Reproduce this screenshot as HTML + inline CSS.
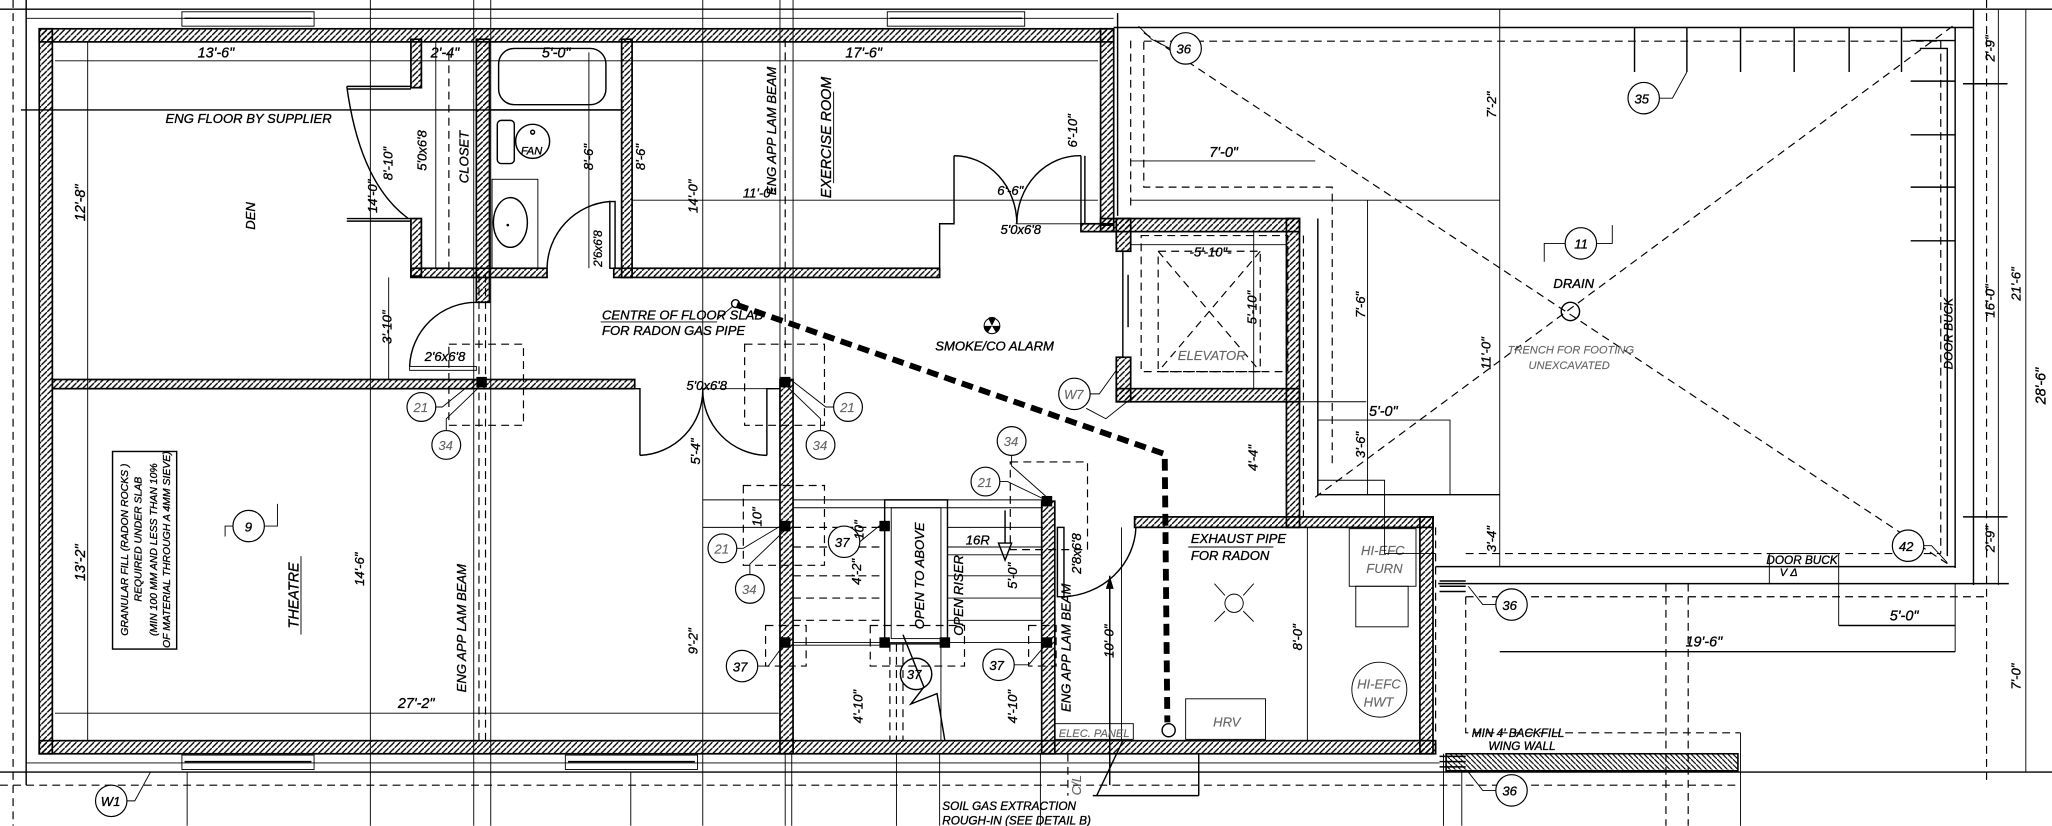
<!DOCTYPE html>
<html><head><meta charset="utf-8">
<style>
html,body{margin:0;padding:0;background:#fff;}
svg{display:block;}
text{font-family:"Liberation Sans Narrow","Liberation Sans",sans-serif;font-style:italic;fill:#000;stroke:#000;stroke-width:0.25;}
.t{font-size:10px;}
.s{font-size:8.5px;}
.g{fill:#666;stroke:#666;stroke-width:0.1;}
.w{fill:url(#h);stroke:#000;stroke-width:1.3;}
.ww{fill:url(#h2);stroke:#000;stroke-width:1.2;}
.l{stroke:#000;stroke-width:1.1;fill:none;}
.lt{stroke:#000;stroke-width:0.7;fill:none;}
.d{stroke:#000;stroke-width:0.9;fill:none;stroke-dasharray:6 4;}
.c{fill:#fff;stroke:#000;stroke-width:0.9;}
</style></head>
<body>
<svg width="2052" height="826" viewBox="0 0 1568 631.2" preserveAspectRatio="none" xmlns="http://www.w3.org/2000/svg">
<defs>
<pattern id="h" width="4.5" height="4.5" patternUnits="userSpaceOnUse"><path d="M-1,5.5 L5.5,-1" stroke="#000" stroke-width="1"/></pattern>
<pattern id="h2" width="4" height="4" patternUnits="userSpaceOnUse"><path d="M-1,-1 L5,5" stroke="#000" stroke-width="0.9"/></pattern>
</defs>
<rect width="1568" height="632" fill="#fff"/>

<!-- frame lines -->
<line class="l" x1="0" y1="7" x2="1568" y2="7"/>
<line class="l" x1="0" y1="590" x2="1568" y2="590"/>
<line class="d" x1="0" y1="600" x2="1330" y2="600"/>
<line class="d" x1="10" y1="0" x2="10" y2="631"/>
<line class="l" x1="20" y1="0" x2="20" y2="600"/>
<line class="lt" x1="20" y1="14" x2="851" y2="14"/>
<line class="lt" x1="20" y1="583" x2="1100" y2="583"/>

<!-- vertical long lines -->
<line class="lt" x1="67" y1="32" x2="67" y2="566"/>
<line class="lt" x1="283" y1="0" x2="283" y2="631"/>
<line class="lt" x1="362" y1="0" x2="362" y2="631"/>
<line class="lt" x1="375" y1="0" x2="375" y2="631"/>
<line class="d" x1="366" y1="210" x2="366" y2="566"/>
<line class="d" x1="371" y1="210" x2="371" y2="566"/>
<line class="lt" x1="537" y1="0" x2="537" y2="631"/>
<line class="lt" x1="596" y1="0" x2="596" y2="290"/>
<line class="lt" x1="606" y1="0" x2="606" y2="290"/>
<line class="d" x1="600" y1="30" x2="600" y2="290"/>
<line class="lt" x1="600" y1="576" x2="600" y2="631"/>
<line class="lt" x1="605" y1="576" x2="605" y2="631"/>
<line class="lt" x1="685" y1="576" x2="685" y2="631"/>
<line class="lt" x1="718" y1="576" x2="718" y2="631"/>
<line class="lt" x1="795" y1="576" x2="795" y2="631"/>
<line class="lt" x1="143" y1="590" x2="143" y2="631"/>
<line class="lt" x1="482" y1="590" x2="482" y2="631"/>
<line class="lt" x1="1103" y1="576" x2="1103" y2="631"/>
<line class="lt" x1="1117" y1="590" x2="1117" y2="631"/>
<line class="d" x1="1273" y1="446" x2="1273" y2="631"/>
<line class="d" x1="1290" y1="446" x2="1290" y2="631"/>
<line class="lt" x1="1330" y1="560" x2="1330" y2="631"/>

<!-- top windows -->
<rect x="139" y="9" width="101" height="11" fill="#fff" class="lt"/>
<line class="l" x1="141" y1="14" x2="238" y2="14" stroke-width="2.5"/>
<rect x="678" y="9" width="105" height="11" fill="#fff" class="lt"/>
<line class="l" x1="680" y1="14" x2="781" y2="14" stroke-width="2.5"/>
<!-- bottom windows -->
<rect x="139" y="577" width="101" height="11" fill="#fff" class="lt"/>
<line class="l" x1="141" y1="582" x2="238" y2="582" stroke-width="2.5"/>
<rect x="432" y="577" width="101" height="11" fill="#fff" class="lt"/>
<line class="l" x1="434" y1="582" x2="531" y2="582" stroke-width="2.5"/>

<!-- interior dimension lines -->
<line class="lt" x1="42" y1="46.5" x2="839" y2="46.5"/>
<line class="l" x1="16" y1="84" x2="477" y2="84" stroke-width="1.4"/>
<line class="lt" x1="42" y1="545" x2="595" y2="545"/>
<line class="lt" x1="483" y1="153" x2="839" y2="153"/>

<!-- WALLS -->
<rect class="w" x="30" y="22" width="821" height="10"/>
<rect class="w" x="30" y="22" width="10" height="554"/>
<rect class="w" x="30" y="566" width="1067" height="10"/>
<rect class="w" x="841" y="22" width="10" height="150"/>
<rect class="w" x="841" y="167" width="152" height="10"/>
<rect class="w" x="983" y="167" width="10" height="236"/>
<rect class="w" x="853" y="297" width="140" height="10"/>
<rect class="w" x="853" y="167" width="11" height="25"/>
<rect class="w" x="853" y="273" width="11" height="34"/>
<rect class="w" x="867" y="395" width="228" height="8"/>
<rect class="w" x="1085" y="395" width="10" height="181"/>
<rect class="w" x="596" y="290" width="10" height="286"/>
<rect class="w" x="796" y="383" width="10" height="193"/>
<rect class="w" x="40" y="290" width="445" height="7"/>
<rect class="w" x="314" y="30" width="8" height="37"/>
<rect class="w" x="314" y="167" width="8" height="44"/>
<rect class="w" x="314" y="205" width="104" height="7"/>
<rect class="w" x="364" y="30" width="10" height="201"/>
<rect class="w" x="475" y="30" width="8" height="182"/>
<rect class="w" x="469" y="205" width="249" height="7"/>
<rect class="w" x="826" y="171" width="25" height="6"/>
<rect class="ww" x="1105" y="576" width="223" height="13"/>
<line class="l" x1="1105" y1="589" x2="1328" y2="589"/>

<!-- den door / closet -->
<path class="l" d="M265,66 H314 M265,68 H314 M265,167 H314 M265,169 H314"/>
<path class="l" d="M265,66 Q275,140 312,167"/>
<line class="lt" x1="333" y1="32" x2="333" y2="205"/>
<line class="d" x1="343" y1="40" x2="343" y2="205"/>
<!-- tub -->
<rect class="l" x="381" y="37" width="82" height="43" rx="12"/>
<line class="l" x1="374" y1="84" x2="475" y2="84"/>
<rect class="l" x="380" y="92" width="13" height="33" rx="3"/>
<ellipse class="l" cx="407" cy="108" rx="13" ry="13"/>
<text class="s" x="398" y="118">FAN</text>
<circle cx="407" cy="101" r="1.5" class="l"/>
<rect class="lt" x="376" y="137" width="35" height="68"/>
<ellipse class="l" cx="390" cy="170" rx="13" ry="19"/>
<circle cx="388" cy="172" r="1" fill="#000"/>
<!-- bath door -->
<path class="l" d="M418,205 A52,52 0 0 1 466,154"/>
<rect class="l" x="466" y="154" width="4" height="51"/>
<line class="lt" x1="450" y1="40" x2="450" y2="205"/>
<!-- 3'-10 door -->
<path class="l" d="M313,280 A51,51 0 0 1 364,231"/>
<rect class="lt" x="313" y="280" width="51" height="3"/>
<line class="lt" x1="297" y1="212" x2="297" y2="290"/>
<!-- double door 5'0x6'8 -->
<path class="l" d="M485,297 H489 V348 M586,348 V297 H596"/>
<path class="l" d="M489,348 A50,50 0 0 0 537,297 A50,50 0 0 0 586,348"/>
<line class="lt" x1="537" y1="297" x2="590" y2="297"/>
<!-- exercise room step and door -->
<path class="l" d="M718,205 V171 H729 V119"/>
<path class="l" d="M826,119 V171 M829,119 V171"/>
<path class="l" d="M729,119 A48,52 0 0 1 777,171 A48,52 0 0 1 826,119"/>
<line class="lt" x1="776" y1="171" x2="826" y2="171"/>

<!-- column dashed boxes -->
<rect class="d" x="343" y="263" width="57" height="62"/>
<rect class="d" x="569" y="263" width="61" height="62"/>
<rect class="d" x="568" y="371" width="62" height="61"/>
<rect class="d" x="772" y="353" width="59" height="67"/>
<rect class="d" x="585" y="478" width="31" height="31"/>
<rect class="d" x="665" y="478" width="72" height="31"/>
<rect class="d" x="786" y="478" width="21" height="31"/>
<rect x="364" y="288" width="8" height="8" fill="#000"/>
<rect x="596" y="288" width="8" height="8" fill="#000"/>

<!-- stairs -->
<g class="lt">
<line x1="606" y1="382" x2="797" y2="382"/>
<line x1="606" y1="388" x2="797" y2="388"/>
<line x1="724" y1="403" x2="797" y2="403"/>
<line x1="724" y1="418" x2="797" y2="418"/>
<line x1="724" y1="424" x2="797" y2="424"/>
<line x1="724" y1="440" x2="797" y2="440"/>
<line x1="724" y1="457" x2="797" y2="457"/>
<line x1="724" y1="474" x2="797" y2="474"/>
<line x1="606" y1="491" x2="797" y2="491"/>
<line x1="606" y1="493" x2="676" y2="493"/>
</g>
<g class="d">
<line x1="606" y1="403" x2="676" y2="403"/>
<line x1="606" y1="418" x2="676" y2="418"/>
<line x1="606" y1="440" x2="676" y2="440"/>
<line x1="606" y1="457" x2="676" y2="457"/>
<line x1="606" y1="474" x2="676" y2="474"/>
</g>
<rect class="l" x="676" y="382" width="48" height="110"/>
<rect class="lt" x="681" y="388" width="38" height="100"/>
<line class="d" x1="680" y1="492" x2="680" y2="566"/>
<line class="d" x1="685" y1="492" x2="685" y2="566"/>
<line class="d" x1="690" y1="492" x2="690" y2="566"/>
<line class="lt" x1="719" y1="492" x2="719" y2="566"/>
<path class="l" d="M690,485 L706,525 L696,538 L716,530 L722,566"/>
<rect x="596" y="398" width="8" height="8" fill="#000"/>
<rect x="672" y="398" width="8" height="8" fill="#000"/>
<rect x="596" y="487" width="8" height="8" fill="#000"/>
<rect x="672" y="487" width="8" height="8" fill="#000"/>
<rect x="718" y="487" width="8" height="8" fill="#000"/>
<rect x="796" y="487" width="8" height="8" fill="#000"/>
<rect x="796" y="379" width="8" height="8" fill="#000"/>
<path class="l" d="M768,390 V415 M763,415 L768,428 L773,415 Z"/>
<line class="lt" x1="537" y1="382" x2="596" y2="382"/>
<line class="lt" x1="537" y1="403" x2="596" y2="403"/>

<!-- stair door 2'8x6'8 -->
<rect class="l" x="808" y="403" width="5" height="53"/>
<path class="l" d="M813,456 A58,55 0 0 0 868,403"/>
<line class="l" x1="848" y1="440" x2="848" y2="600"/>
<path d="M845,450 L848,440 L851,450Z" fill="#000"/>
<line class="lt" x1="857" y1="403" x2="857" y2="566"/>
<rect class="lt" x="806" y="553" width="60" height="12"/>
<text class="s g" x="809" y="563">ELEC. PANEL</text>
<path class="l" d="M858,566 L838,608 M835,608 H916 M916,576 V608"/>
<line class="d" x1="816" y1="576" x2="816" y2="608"/>

<!-- mechanical -->
<line class="lt" x1="999" y1="403" x2="999" y2="566"/>
<rect class="lt" x="906" y="534" width="61" height="31"/>
<text class="t g" x="927" y="555">HRV</text>
<rect class="lt" x="1031" y="404" width="51" height="44"/>
<text class="t g" x="1040" y="424">HI-EFC</text>
<text class="t g" x="1044" y="438">FURN</text>
<rect class="lt" x="1036" y="448" width="40" height="31"/>
<circle class="lt" cx="1054" cy="527" r="21"/>
<text class="t g" x="1037" y="526">HI-EFC</text>
<text class="t g" x="1042" y="540">HWT</text>
<circle class="lt" cx="943" cy="461" r="7"/>
<path class="lt" d="M928,446 L936,455 M950,467 L958,475 M958,446 L950,455 M936,467 L928,475"/>
<text class="t" x="910" y="415">EXHAUST PIPE</text>
<line class="lt" x1="908" y1="418" x2="973" y2="418"/>
<text class="t" x="910" y="428">FOR RADON</text>

<!-- radon pipe -->
<path d="M563,233 L890,347 L892,552" fill="none" stroke="#000" stroke-width="4.5" stroke-dasharray="9 5"/>
<circle class="l" cx="893" cy="558" r="5"/>
<circle class="l" cx="562" cy="232" r="3"/>
<line class="lt" x1="548" y1="244" x2="560" y2="234"/>

<!-- elevator -->
<rect class="d" x="885" y="192" width="78" height="92"/>
<line class="d" x1="885" y1="192" x2="963" y2="284"/>
<line class="d" x1="963" y1="192" x2="885" y2="284"/>
<rect class="d" x="872" y="180" width="112" height="104"/>
<line class="lt" x1="864" y1="187" x2="983" y2="187"/>
<line class="lt" x1="958" y1="177" x2="958" y2="297"/>
<line class="l" x1="858" y1="192" x2="858" y2="273"/>
<line class="l" x1="862" y1="210" x2="862" y2="250"/>
<text class="t g" x="900" y="275">ELEVATOR</text>

<!-- garage -->
<line class="l" x1="851" y1="21" x2="1508" y2="21"/>
<line class="d" x1="874" y1="31.5" x2="1483" y2="31.5"/>
<line class="l" x1="1508" y1="7" x2="1508" y2="447"/>
<line class="l" x1="1494" y1="21" x2="1494" y2="434"/>
<line class="d" x1="1483" y1="31" x2="1483" y2="423"/>
<line class="d" x1="1518" y1="0" x2="1518" y2="600"/>
<line class="lt" x1="1527" y1="7" x2="1527" y2="447"/>
<line class="lt" x1="1548" y1="7" x2="1548" y2="590"/>
<line class="l" x1="854" y1="10" x2="854" y2="165"/>
<path class="d" d="M864,31 V160"/>
<path class="d" d="M874,32 V143 H1018 V355"/>
<line class="lt" x1="864" y1="123" x2="1005" y2="123"/>
<line class="lt" x1="864" y1="153" x2="1146" y2="153"/>
<path class="l" d="M1007,167 V378 H1146"/>
<path class="d" d="M996,180 V395"/>
<path class="d" d="M864,307 H983"/>
<line class="lt" x1="958" y1="307" x2="1044" y2="307"/>
<line class="lt" x1="1045" y1="153" x2="1045" y2="378"/>
<path class="lt" d="M1007,321 H1108 V378"/>
<path class="lt" d="M1007,367 H1058 V423 H1097"/>
<line class="lt" x1="1146" y1="7" x2="1146" y2="433"/>
<line class="l" x1="1097" y1="433" x2="1494" y2="433"/>
<line class="l" x1="1099" y1="446" x2="1535" y2="446"/>
<line class="d" x1="1120" y1="423" x2="1483" y2="423"/>
<path class="d" d="M1120,456 H1517 M1120,456 V560 H1330"/>
<line class="d" x1="1097" y1="403" x2="1097" y2="560"/>
<rect class="lt" x="1352" y="423" width="53" height="23"/>
<text class="s" x="1360" y="440">V Δ</text>
<path class="l" d="M1100,444 H1120 M1100,448 H1120 M1100,452 H1120"/>
<path class="l" d="M1100,578 H1120 M1100,582 H1120 M1100,586 H1120"/>
<path class="l" d="M1467,37 H1488 V425 M1460,31 H1494"/>
<!-- ticks -->
<g class="l">
<line x1="1249" y1="21" x2="1249" y2="55"/><line x1="1289" y1="21" x2="1289" y2="55"/>
<line x1="1330" y1="21" x2="1330" y2="55"/><line x1="1371" y1="21" x2="1371" y2="55"/>
<line x1="1413" y1="21" x2="1413" y2="55"/><line x1="1453" y1="21" x2="1453" y2="55"/>
<line x1="1460" y1="62" x2="1494" y2="62"/><line x1="1460" y1="103" x2="1494" y2="103"/>
<line x1="1460" y1="143" x2="1494" y2="143"/><line x1="1460" y1="184" x2="1494" y2="184"/>
<line x1="1500" y1="64" x2="1534" y2="64"/><line x1="1500" y1="395" x2="1534" y2="395"/>
<line x1="1405" y1="478" x2="1494" y2="478"/><line x1="1146" y1="498" x2="1494" y2="498"/>
</g>
<line class="lt" x1="1494" y1="446" x2="1494" y2="498"/>
<line class="lt" x1="1405" y1="446" x2="1405" y2="478"/>
<!-- big X -->
<line class="d" x1="874" y1="25" x2="1490" y2="432"/>
<line class="d" x1="1492" y1="20" x2="1005" y2="380"/>
<circle class="l" cx="1200" cy="238" r="7"/>
<text class="t" x="1187" y="220">DRAIN</text>
<text class="s g" x="1152" y="270">TRENCH FOR FOOTING</text>
<text class="s g" x="1168" y="282">UNEXCAVATED</text>

<!-- tags / circles -->
<g>
<circle class="c" cx="322" cy="311" r="11"/><text class="t g" x="316" y="315">21</text>
<circle class="c" cx="341" cy="340" r="11"/><text class="t g" x="335" y="344">34</text>
<path class="lt" d="M333,311 H338 L364,290 M341,329 V320 L366,296"/>
<circle class="c" cx="648" cy="311" r="11"/><text class="t g" x="642" y="315">21</text>
<circle class="c" cx="627" cy="340" r="11"/><text class="t g" x="621" y="344">34</text>
<path class="lt" d="M637,311 H631 L604,290 M627,329 V320 L602,296"/>
<circle class="c" cx="773" cy="337" r="11"/><text class="t g" x="767" y="341">34</text>
<circle class="c" cx="753" cy="368" r="11"/><text class="t g" x="747" y="372">21</text>
<path class="lt" d="M764,368 H770 L799,382 M773,348 V356 L800,380"/>
<circle class="c" cx="552" cy="419" r="11"/><text class="t g" x="546" y="423">21</text>
<circle class="c" cx="573" cy="450" r="11"/><text class="t g" x="567" y="454">34</text>
<path class="lt" d="M563,419 H568 L598,401 M573,439 V431 L600,405"/>
<circle class="c" cx="645" cy="414" r="12"/><text class="t" x="638" y="418">37</text>
<path class="lt" d="M657,414 L673,401"/>
<circle class="c" cx="567" cy="509" r="12"/><text class="t" x="560" y="513">37</text>
<path class="lt" d="M579,509 H587 L598,494"/>
<circle class="c" cx="763" cy="508" r="12"/><text class="t" x="756" y="512">37</text>
<path class="lt" d="M775,508 H786 L798,494"/>
<circle class="l" cx="700" cy="515" r="12" fill="none"/><text class="t" x="693" y="519">37</text>
<circle class="c" cx="190" cy="402" r="12"/><text class="t" x="187" y="406">9</text>
<path class="lt" d="M178,402 H172 V410 M202,402 H212 V385"/>
<circle class="c" cx="85" cy="612" r="12"/><text class="t" x="77" y="616">W1</text>
<path class="lt" d="M97,612 H103 L115,590"/>
<circle class="c" cx="821" cy="301" r="12"/><text class="t g" x="813" y="305">W7</text>
<path class="lt" d="M833,301 H840 L853,283 M830,312 L845,320 L870,300"/>
<circle class="c" cx="906" cy="37" r="12"/><text class="t" x="899" y="41">36</text>
<path class="lt" d="M894,37 L880,30 L870,20"/>
<circle class="c" cx="1256" cy="75" r="12"/><text class="t" x="1249" y="79">35</text>
<path class="lt" d="M1268,75 H1278 L1289,55"/>
<circle class="c" cx="1208" cy="186" r="12"/><text class="t" x="1203" y="190">11</text>
<path class="lt" d="M1196,186 H1180 V200 M1220,186 H1232 V172"/>
<circle class="c" cx="1458" cy="417" r="12"/><text class="t" x="1451" y="421">42</text>
<path class="lt" d="M1470,417 H1476 L1488,430"/>
<circle class="c" cx="1155" cy="462" r="12"/><text class="t" x="1148" y="466">36</text>
<path class="lt" d="M1143,462 H1133 L1122,448"/>
<circle class="c" cx="1155" cy="604" r="12"/><text class="t" x="1148" y="608">36</text>
<path class="lt" d="M1143,604 H1133 L1122,590"/>
<!-- smoke alarm -->
<circle cx="758" cy="249" r="6" fill="#fff" stroke="#000" stroke-width="0.8"/>
<path d="M758,249 L755,243 A6,6 0 0 1 761,243 Z M758,249 L764,249 A6,6 0 0 1 761,254 Z M758,249 L755,254 A6,6 0 0 1 752,249 Z" fill="#000"/>
</g>

<!-- granular fill box -->
<rect class="l" x="86" y="345" width="49" height="151"/>
<g transform="rotate(-90 110 420)">
<text x="110" y="408" text-anchor="middle" font-size="8">GRANULAR FILL (RADON ROCKS )</text>
<text x="118" y="418" text-anchor="middle" font-size="8">REQUIRED UNDER SLAB</text>
<text x="110" y="430" text-anchor="middle" font-size="8">(MIN 100 MM AND LESS THAN 10%</text>
<text x="110" y="440" text-anchor="middle" font-size="8">OF MATERIAL THROUGH A 4MM SIEVE)</text>
</g>

<!-- horizontal labels -->
<g class="t">
<text x="165" y="44" text-anchor="middle" font-size="11">13'-6"</text>
<text x="340" y="44" text-anchor="middle" font-size="11">2'-4"</text>
<text x="425" y="44" text-anchor="middle" font-size="11">5'-0"</text>
<text x="660" y="44" text-anchor="middle" font-size="11">17'-6"</text>
<text x="190" y="94" text-anchor="middle">ENG FLOOR BY SUPPLIER</text>
<text x="772" y="149" text-anchor="middle">6'-6"</text>
<text x="780" y="179" text-anchor="middle">5'0x6'8</text>
<text x="580" y="151" text-anchor="middle">11'-0"</text>
<text x="340" y="276" text-anchor="middle">2'6x6'8</text>
<text x="460" y="244">CENTRE OF FLOOR SLAB</text>
<line class="lt" x1="459" y1="246" x2="548" y2="246"/>
<text x="460" y="256">FOR RADON GAS PIPE</text>
<text x="540" y="298" text-anchor="middle">5'0x6'8</text>
<text x="760" y="268" text-anchor="middle">SMOKE/CO ALARM</text>
<text x="738" y="416">16R</text>
<text x="318" y="541" text-anchor="middle" font-size="11">27'-2"</text>
<text x="720" y="619" font-size="9">SOIL GAS EXTRACTION</text>
<text x="720" y="630" font-size="9">ROUGH-IN (SEE DETAIL B)</text>
<text x="925" y="196" text-anchor="middle">-5'-10"-</text>
<text x="935" y="120" text-anchor="middle" font-size="11">7'-0"</text>
<text x="1057" y="318" text-anchor="middle" font-size="11">5'-0"</text>
<text x="1377" y="431" text-anchor="middle" font-size="9">DOOR BUCK</text>
<text x="1455" y="474" text-anchor="middle" font-size="11">5'-0"</text>
<text x="1302" y="494" text-anchor="middle" font-size="11">19'-6"</text>
<text x="1160" y="563" text-anchor="middle" font-size="9">MIN 4' BACKFILL</text>
<text x="1163" y="573" text-anchor="middle" font-size="9">WING WALL</text>
</g>

<!-- rotated labels -->
<g class="t">
<text transform="rotate(-90 195 165)" x="195" y="165" text-anchor="middle">DEN</text>
<text transform="rotate(-90 65 155)" x="65" y="155" text-anchor="middle" font-size="11">12'-8"</text>
<text transform="rotate(-90 288 150)" x="288" y="150" text-anchor="middle">14'-0"</text>
<text transform="rotate(-90 300 125)" x="300" y="125" text-anchor="middle">8'-10"</text>
<text transform="rotate(-90 326 115)" x="326" y="115" text-anchor="middle">5'0x6'8</text>
<text transform="rotate(-90 358 120)" x="358" y="120" text-anchor="middle">CLOSET</text>
<text transform="rotate(-90 453 120)" x="453" y="120" text-anchor="middle">8'-6"</text>
<text transform="rotate(-90 493 120)" x="493" y="120" text-anchor="middle">8'-6"</text>
<text transform="rotate(-90 533 150)" x="533" y="150" text-anchor="middle">14'-0"</text>
<text transform="rotate(-90 593 100)" x="593" y="100" text-anchor="middle">ENG APP LAM BEAM</text>
<text transform="rotate(-90 635 105)" x="635" y="105" text-anchor="middle" font-size="11">EXERCISE ROOM</text>
<line class="lt" x1="637" y1="70" x2="637" y2="140"/>
<text transform="rotate(-90 823 100)" x="823" y="100" text-anchor="middle">6'-10"</text>
<text transform="rotate(-90 460 190)" x="460" y="190" text-anchor="middle" font-size="9">2'6x6'8</text>
<text transform="rotate(-90 299 250)" x="299" y="250" text-anchor="middle">3'-10"</text>
<text transform="rotate(-90 535 345)" x="535" y="345" text-anchor="middle">5'-4"</text>
<text transform="rotate(-90 65 430)" x="65" y="430" text-anchor="middle" font-size="11">13'-2"</text>
<text transform="rotate(-90 228 455)" x="228" y="455" text-anchor="middle" font-size="11">THEATRE</text>
<line class="lt" x1="230" y1="425" x2="230" y2="485"/>
<text transform="rotate(-90 278 435)" x="278" y="435" text-anchor="middle">14'-6"</text>
<text transform="rotate(-90 356 480)" x="356" y="480" text-anchor="middle">ENG APP LAM BEAM</text>
<text transform="rotate(-90 533 490)" x="533" y="490" text-anchor="middle">9'-2"</text>
<text transform="rotate(-90 582 395)" x="582" y="395" text-anchor="middle">10"</text>
<text transform="rotate(-90 660 405)" x="660" y="405" text-anchor="middle">10"</text>
<text transform="rotate(-90 658 437)" x="658" y="437" text-anchor="middle">4'-2"</text>
<text transform="rotate(-90 706 440)" x="706" y="440" text-anchor="middle">OPEN TO ABOVE</text>
<text transform="rotate(-90 736 455)" x="736" y="455" text-anchor="middle">OPEN RISER</text>
<text transform="rotate(-90 777 440)" x="777" y="440" text-anchor="middle">5'-0"</text>
<text transform="rotate(-90 826 423)" x="826" y="423" text-anchor="middle">2'8x6'8</text>
<text transform="rotate(-90 818 495)" x="818" y="495" text-anchor="middle">ENG APP LAM BEAM</text>
<text transform="rotate(-90 851 490)" x="851" y="490" text-anchor="middle">10'-0"</text>
<text transform="rotate(-90 659 540)" x="659" y="540" text-anchor="middle">4'-10"</text>
<text transform="rotate(-90 777 540)" x="777" y="540" text-anchor="middle">4'-10"</text>
<text transform="rotate(-90 826 600)" x="826" y="600" text-anchor="middle" class="g">C/L</text>
<text transform="rotate(-90 995 487)" x="995" y="487" text-anchor="middle">8'-0"</text>
<text transform="rotate(-90 960 235)" x="960" y="235" text-anchor="middle">5'-10"</text>
<text transform="rotate(-90 961 350)" x="961" y="350" text-anchor="middle">4'-4"</text>
<text transform="rotate(-90 1043 233)" x="1043" y="233" text-anchor="middle">7'-6"</text>
<text transform="rotate(-90 1043 340)" x="1043" y="340" text-anchor="middle">3'-6"</text>
<text transform="rotate(-90 1143 80)" x="1143" y="80" text-anchor="middle">7'-2"</text>
<text transform="rotate(-90 1139 270)" x="1139" y="270" text-anchor="middle">11'-0"</text>
<text transform="rotate(-90 1143 412)" x="1143" y="412" text-anchor="middle">3'-4"</text>
<text transform="rotate(-90 1492 255)" x="1492" y="255" text-anchor="middle" font-size="9">DOOR BUCK</text>
<text transform="rotate(-90 1524 230)" x="1524" y="230" text-anchor="middle">16'-0"</text>
<text transform="rotate(-90 1544 217)" x="1544" y="217" text-anchor="middle">21'-6"</text>
<text transform="rotate(-90 1563 295)" x="1563" y="295" text-anchor="middle" font-size="11">28'-6"</text>
<text transform="rotate(-90 1524 37)" x="1524" y="37" text-anchor="middle">2'-9"</text>
<text transform="rotate(-90 1524 412)" x="1524" y="412" text-anchor="middle">2'-9"</text>
<text transform="rotate(-90 1544 517)" x="1544" y="517" text-anchor="middle">7'-0"</text>
</g>
</svg>
</body></html>
